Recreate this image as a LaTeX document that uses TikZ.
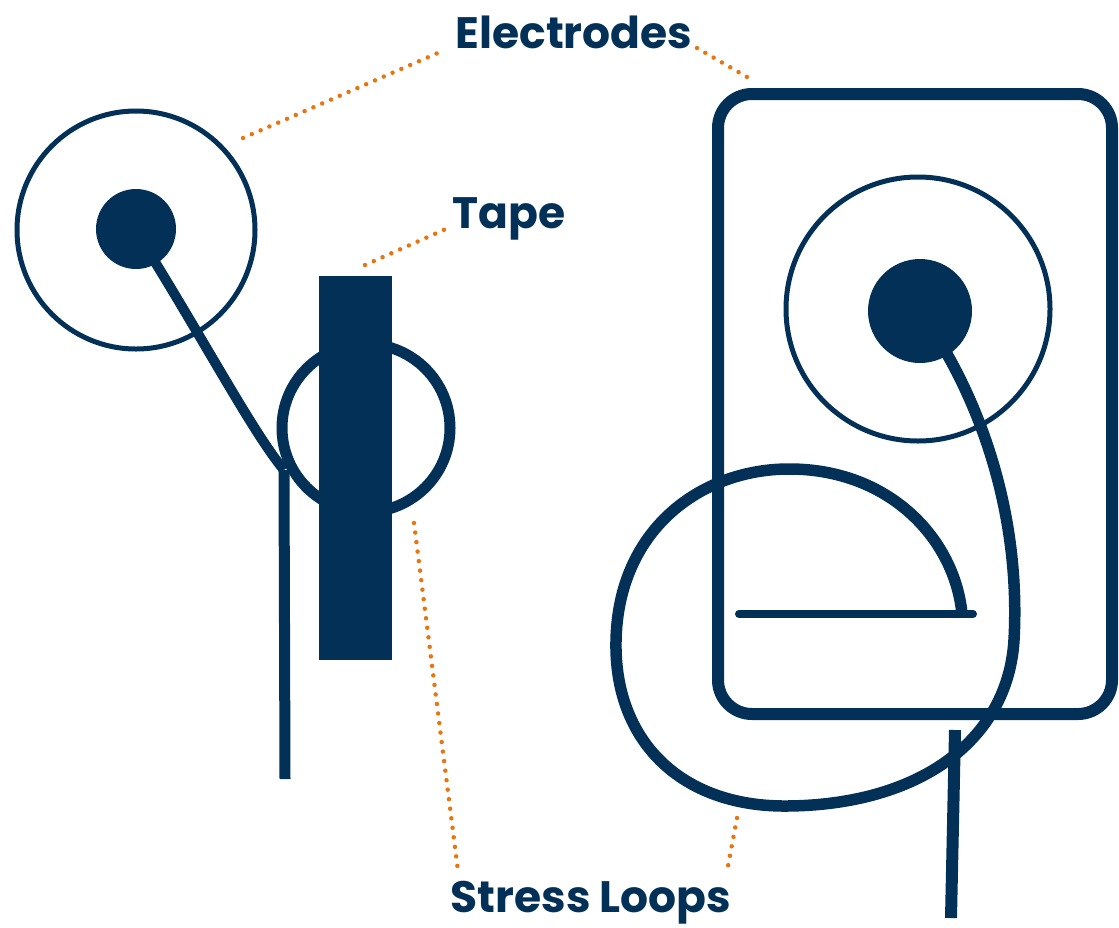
\documentclass[tikz,border=0pt]{standalone}
\usepackage{fontspec}
\setmainfont{Poppins}
\definecolor{navy}{RGB}{2,48,87}
\definecolor{dotorange}{RGB}{232,118,16}
\begin{document}
\begin{tikzpicture}[x=1pt,y=-1pt,
  lbl/.style={text=navy,font=\fontsize{44}{46}\selectfont\bfseries,inner sep=0pt},
  ring/.style={draw=navy,line width=5pt,circle,inner sep=0pt},
  disc/.style={fill=navy,circle,inner sep=0pt},
  wire/.style={draw=navy,line width=10pt},
  loopline/.style={draw=navy,line width=11.5pt},
  dotline/.style={draw=dotorange,line width=4.5pt,line cap=round,dash pattern=on 0pt off 9.6pt}]
\useasboundingbox (0,0) rectangle (1119,927);
% labels
\node[lbl] (electrodes) at (574,32) {Electrodes};
\node[lbl] (tape) at (509,219) {Tape};
\node[lbl] (stress) at (591,903) {Stress Loops};
% left electrode
\node[ring,minimum size=238pt] (lring) at (136,230) {};
\node[disc,minimum size=80pt] (ldisc) at (136,229) {};
\coordinate (lwireA) at (155,262);
\coordinate (lwireB) at (284,470);
\coordinate (lwireC) at (285,779);
\draw[wire] (lwireA) .. controls (212,355) and (255,435) .. (lwireB);
\draw[draw=navy,line width=11pt] (lwireB) -- (lwireC);
% left stress loop
\node[draw=navy,line width=11pt,circle,minimum size=168pt,inner sep=0pt] (lloop) at (366,428) {};
% tape
\node[fill=navy,minimum width=73pt,minimum height=384pt,inner sep=0pt] (tapebar) at (355.5,468) {};
% right electrode frame
\node[draw=navy,line width=12pt,rounded corners=34pt,minimum width=394pt,minimum height=620pt,inner sep=0pt] (frame) at (915,404) {};
\node[ring,minimum size=264pt] (rring) at (918,309) {};
\node[disc,minimum size=104pt] (rdisc) at (920,311) {};
\coordinate (rw0) at (947,354);
\coordinate (rw1) at (1014,640);
\coordinate (rw2) at (787,806);
\coordinate (rw3) at (616,641);
\coordinate (rw4) at (787,469);
\coordinate (rw5) at (962,614);
\draw[loopline] (rw0) .. controls (990,430) and (1020,530) .. (rw1)
  .. controls (1008,740) and (920,805) .. (rw2)
  .. controls (680,807) and (614,740) .. (rw3)
  .. controls (618,530) and (700,470) .. (rw4)
  .. controls (890,468) and (955,540) .. (rw5);
\coordinate (barL) at (739,614);
\coordinate (barR) at (973,614);
\draw[draw=navy,line width=8pt,line cap=round] (barL) -- (barR);
\coordinate (rtailA) at (955,730);
\coordinate (rtailB) at (951,918);
\draw[draw=navy,line width=12pt] (rtailA) -- (rtailB);
% dotted leaders
\coordinate (e1) at (243,138);
\coordinate (e1t) at (440,52);
\coordinate (e2t) at (697,48);
\coordinate (e2) at (747,77);
\coordinate (t1) at (365,265);
\coordinate (t1t) at (448,228);
\coordinate (s1) at (414,523);
\coordinate (s1t) at (458,871);
\coordinate (s2) at (737,818);
\coordinate (s2t) at (728,866);
\draw[dotline] (e1) -- (e1t);
\draw[dotline] (e2t) -- (e2);
\draw[dotline] (t1) -- (t1t);
\draw[dotline] (s1) -- (s1t);
\draw[dotline] (s2) -- (s2t);
\end{tikzpicture}
\end{document}
